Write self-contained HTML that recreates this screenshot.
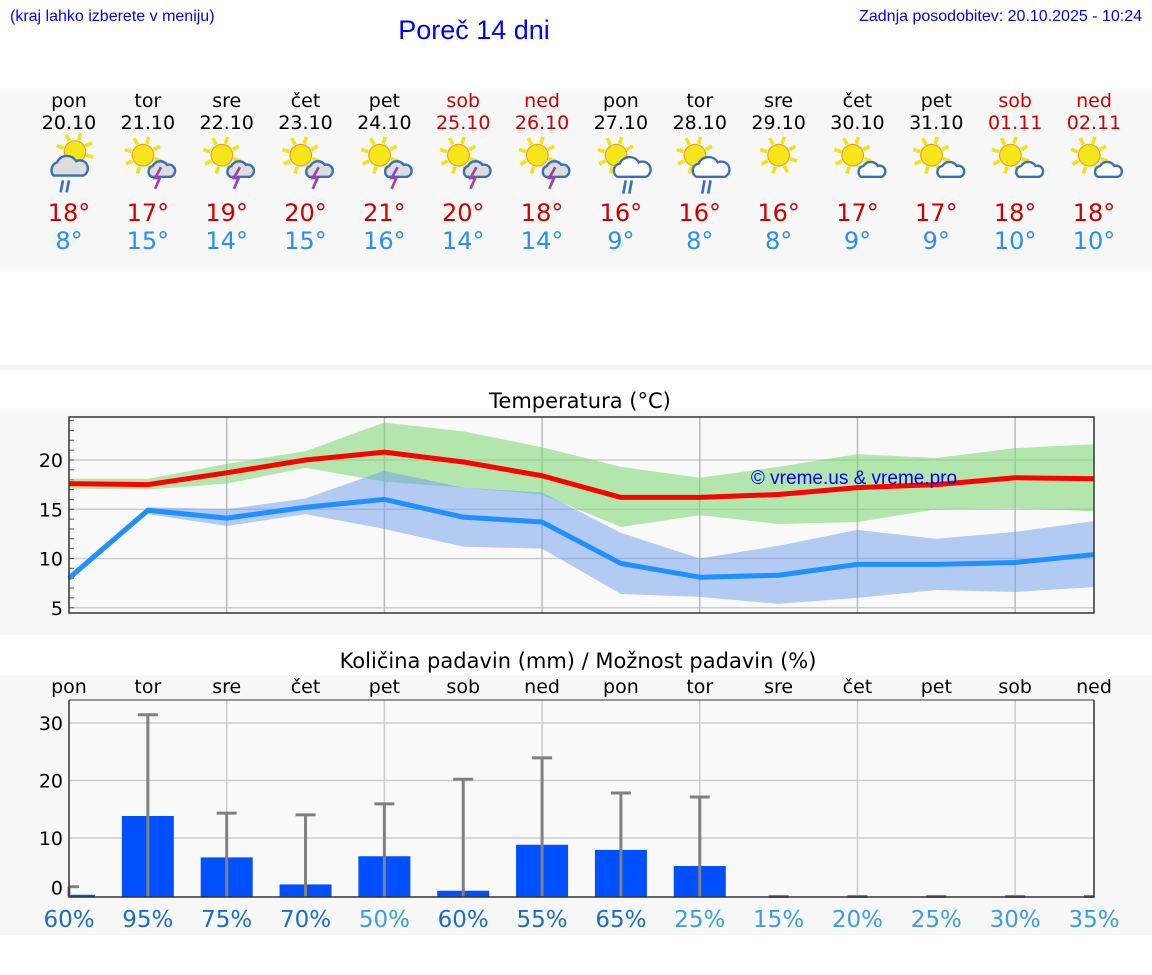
<!DOCTYPE html>
<html><head><meta charset="utf-8">
<style>
html,body{margin:0;padding:0;background:#fff;}
svg{display:block;font-family:"DejaVu Sans","Liberation Sans",sans-serif;}
</style></head>
<body>
<svg id="s" width="1152" height="975" viewBox="0 0 1152 975" xmlns="http://www.w3.org/2000/svg">
<rect x="0" y="90" width="1152" height="180" fill="#f7f7f7"/>
<rect x="0" y="365" width="1152" height="5" fill="#f4f4f4"/>
<rect x="0" y="410" width="1152" height="225" fill="#f7f7f7"/>
<rect x="0" y="675" width="1152" height="260" fill="#f7f7f7"/>
<text x="10" y="21" font-family="Liberation Sans, sans-serif" font-size="16" fill="#0000ff">(kraj lahko izberete v meniju)</text>
<text x="474" y="39" text-anchor="middle" font-family="Liberation Sans, sans-serif" font-size="27" fill="#0000ff">Poreč 14 dni</text>
<text x="1142" y="21" text-anchor="end" font-family="Liberation Sans, sans-serif" font-size="16" fill="#0000ff">Zadnja posodobitev: 20.10.2025 - 10:24</text>
<text x="580" y="408" text-anchor="middle" font-size="21" fill="#000">Temperatura (°C)</text>
<text x="578" y="668" text-anchor="middle" font-size="21" fill="#000">Količina padavin (mm) / Možnost padavin (%)</text>
<g id="g"></g>
</svg>
<script>
const days=["pon","tor","sre","čet","pet","sob","ned","pon","tor","sre","čet","pet","sob","ned"];
const dates=["20.10","21.10","22.10","23.10","24.10","25.10","26.10","27.10","28.10","29.10","30.10","31.10","01.11","02.11"];
const weekend=[0,0,0,0,0,1,1,0,0,0,0,0,1,1];
const icons=[0,1,1,1,1,1,1,2,2,3,4,4,4,4];
const maxT=[18,17,19,20,21,20,18,16,16,16,17,17,18,18];
const minT=[8,15,14,15,16,14,14,9,8,8,9,9,10,10];
const maxLine=[17.6,17.5,18.7,20,20.8,19.8,18.4,16.2,16.2,16.5,17.2,17.5,18.2,18.1];
const maxHi=[18.1,18.1,19.6,20.9,23.8,22.9,21.3,19.3,18.2,19.3,20.6,20.2,21.2,21.6];
const maxLo=[17.1,17.0,17.6,19.2,17.8,17.2,16.5,13.2,14.4,13.5,13.7,15.0,15.1,14.8];
const minLine=[8.0,14.9,14.1,15.2,16.0,14.2,13.7,9.5,8.1,8.3,9.4,9.4,9.6,10.4];
const minHi=[8.3,15.2,15.0,16.1,18.9,17.2,16.7,12.6,10.0,11.3,12.9,12.0,12.7,13.8];
const minLo=[7.7,14.5,13.3,14.5,13.0,11.2,11.0,6.4,6.1,5.4,6.0,6.8,6.6,7.1];
const tTicks=[5,10,15,20];
const rain=[0.3,14,6.8,2.1,7,1,9,8.1,5.3,0,0,0,0,0];
const rainMax=[1.7,31.6,14.5,14.2,16.1,20.4,24.1,18,17.3,0,0,0,0,0];
const prob=[60,95,75,70,50,60,55,65,25,15,20,25,30,35];
const pTicks=[0,10,20,30];

const NS="http://www.w3.org/2000/svg";
const G=document.getElementById('g');
function el(t,a,p){const e=document.createElementNS(NS,t);for(const k in a)e.setAttribute(k,a[k]);(p||G).appendChild(e);return e;}
const X0=69,X1=1094,step=(X1-X0)/13;
const dx=i=>X0+i*step;
const ty=v=>460+(20-v)*9.85;
const py=v=>896.5-v*5.75;

days.forEach((d,i)=>{
  const col=weekend[i]?"#cc0000":"#000";
  let t=el('text',{x:dx(i),y:107,'text-anchor':'middle','font-size':19,fill:col});t.textContent=d;
  
  
  t=el('text',{x:dx(i),y:129,'text-anchor':'middle','font-size':19,fill:col});t.textContent=dates[i];
  
  
  t=el('text',{x:dx(i),y:221,'text-anchor':'middle','font-size':24,fill:"#cc0000"});t.textContent=maxT[i]+"°";
  
  
  t=el('text',{x:dx(i),y:249,'text-anchor':'middle','font-size':24,fill:"#2a8fef"});t.textContent=minT[i]+"°";
  
  
  const g=el('g',{transform:`translate(${dx(i)},160) scale(1.2)`});
  
  
  const sx=icons[i]==0?5:(icons[i]==3?0:-4), sy=icons[i]==0?-7:-4;
  for(let a=0;a<8;a++){const r=a*Math.PI/4+0.3;el('line',{x1:sx+Math.cos(r)*10,y1:sy+Math.sin(r)*10,x2:sx+Math.cos(r)*16,y2:sy+Math.sin(r)*16,stroke:'#f2e21a','stroke-width':3},g);}
  el('circle',{cx:sx,cy:sy,r:9,fill:'#f5e61a',stroke:'#f0a020','stroke-width':1},g);
  if(icons[i]==0){
    el('path',{d:'M-13,13 a7,7 0 0 1 3,-11 a9,9 0 0 1 16,-1 a6,6 0 0 1 6,12 z',fill:'#ddd',stroke:'#3a6fb8','stroke-width':2},g);
    el('path',{d:'M-5,17 l-2,10 M0,17 l-2,10',stroke:'#3a6fb8','stroke-width':2.2},g);
  } else if(icons[i]==1){
    el('path',{d:'M3,14 a5,5 0 0 1 1,-9 a7,7 0 0 1 12,-1 a5,5 0 0 1 3,10 z',fill:'#ddd',stroke:'#3a6fb8','stroke-width':2},g);
    el('path',{d:'M11,6 l-5,9 h4 l-4,9',stroke:'#a040b0','stroke-width':2.2,fill:'none'},g);
  } else if(icons[i]==2){
    el('path',{d:'M-3,14 a6,6 0 0 1 2,-11 a9,9 0 0 1 16,-1 a6,6 0 0 1 6,12 z',fill:'#fff',stroke:'#3a6fb8','stroke-width':2},g);
    el('path',{d:'M4,17 l-2,11 M9,17 l-2,11',stroke:'#3a6fb8','stroke-width':2.2},g);
  } else if(icons[i]==4){
    el('path',{d:'M3,14 a5,5 0 0 1 2,-9 a7,7 0 0 1 12,0 a4,4 0 0 1 3,9 z',fill:'#fff',stroke:'#3a6fb8','stroke-width':2},g);
  }
});

const tp=el('rect',{x:X0,y:417,width:X1-X0,height:196,fill:'#f9f9f9',stroke:'none'});


tTicks.forEach(v=>{
  const l=el('line',{x1:X0,x2:X1,y1:ty(v),y2:ty(v),stroke:'#ccc','stroke-width':1.5});
  
  
  const t=el('text',{x:63,y:ty(v)+7,'text-anchor':'end','font-size':19,fill:'#000'});t.textContent=v;
  
  
});
for(let v=5;v<=24;v++){el('line',{x1:X0,x2:X0+5,y1:ty(v),y2:ty(v),stroke:'#555','stroke-width':1});}
for(let i=2;i<14;i+=2){const l=el('line',{x1:dx(i),x2:dx(i),y1:417,y2:613,stroke:'#bbb','stroke-width':1.5});}
function band(hi,lo,fill,name){
  let d='M'+hi.map((v,i)=>dx(i)+','+ty(v)).join(' L')+' L'+lo.map((v,i)=>dx(i)+','+ty(v)).reverse().join(' L')+'Z';
  const p=el('path',{d:d,fill:fill});
  
  
}
function line(vals,col,w,name){
  const p=el('polyline',{points:vals.map((v,i)=>dx(i)+','+ty(v)).join(' '),fill:'none',stroke:col,'stroke-width':w,'stroke-linejoin':'round'});
  
  
}
band(maxHi,maxLo,'rgba(120,215,110,0.55)','max-temp-band');
band(minHi,minLo,'rgba(110,155,235,0.5)','min-temp-band');
line(maxLine,'#ff0000',5,'max-temp-line');
line(minLine,'#1e90ff',5,'min-temp-line');
const wm=el('text',{x:854,y:484,'text-anchor':'middle','font-family':'Liberation Sans, sans-serif','font-size':19,fill:'#0000ff'});wm.textContent='© vreme.us & vreme.pro';


el('rect',{x:X0,y:417,width:X1-X0,height:196,fill:'none',stroke:'#333','stroke-width':1.5});

const pp=el('rect',{x:X0,y:700,width:X1-X0,height:197,fill:'#f9f9f9'});


pTicks.forEach(v=>{
  if(v>0){const l=el('line',{x1:X0,x2:X1,y1:py(v)-1,y2:py(v)-1,stroke:'#ccc','stroke-width':1.5});
  
  }
  const yy=v==0?py(0)-9:py(v)-1;
  const t=el('text',{x:63,y:yy+7,'text-anchor':'end','font-size':19,fill:'#000'});t.textContent=v;
  
  
});
for(let i=2;i<14;i+=2){const l=el('line',{x1:dx(i),x2:dx(i),y1:700,y2:897,stroke:'#ccc','stroke-width':1.5});}
days.forEach((d,i)=>{
  const t=el('text',{x:dx(i),y:693,'text-anchor':'middle','font-size':19,fill:'#000'});t.textContent=d;
  
  
  const x=dx(i);
  if(rain[i]>0){
    const bx=Math.max(X0,x-26), bw=Math.min(x+26,X1)-bx;
    const b=el('rect',{x:bx,y:py(rain[i]),width:bw,height:py(0)-py(rain[i]),fill:'#0050ff'});
    
    
  }
  const ey=Math.min(py(rainMax[i]),py(0));
  const e=el('line',{x1:x,x2:x,y1:ey,y2:py(0),stroke:'#808080','stroke-width':3});
  
  
  el('line',{x1:Math.max(X0,x-10),x2:Math.min(X1,x+10),y1:ey,y2:ey,stroke:'#808080','stroke-width':3});
  const pt=el('text',{x:x,y:927,'text-anchor':'middle','font-size':23,fill:prob[i]>=55?'#1a6fc4':'#3a9ee0'});pt.textContent=prob[i]+'%';
  
  
});
el('polyline',{points:`${X0},700 ${X0},897 ${X1},897 ${X1},700`,fill:'none',stroke:'#333','stroke-width':1.5});
el('line',{x1:X0,x2:X1,y1:700,y2:700,stroke:'#333','stroke-width':1});
</script>
</body></html>
